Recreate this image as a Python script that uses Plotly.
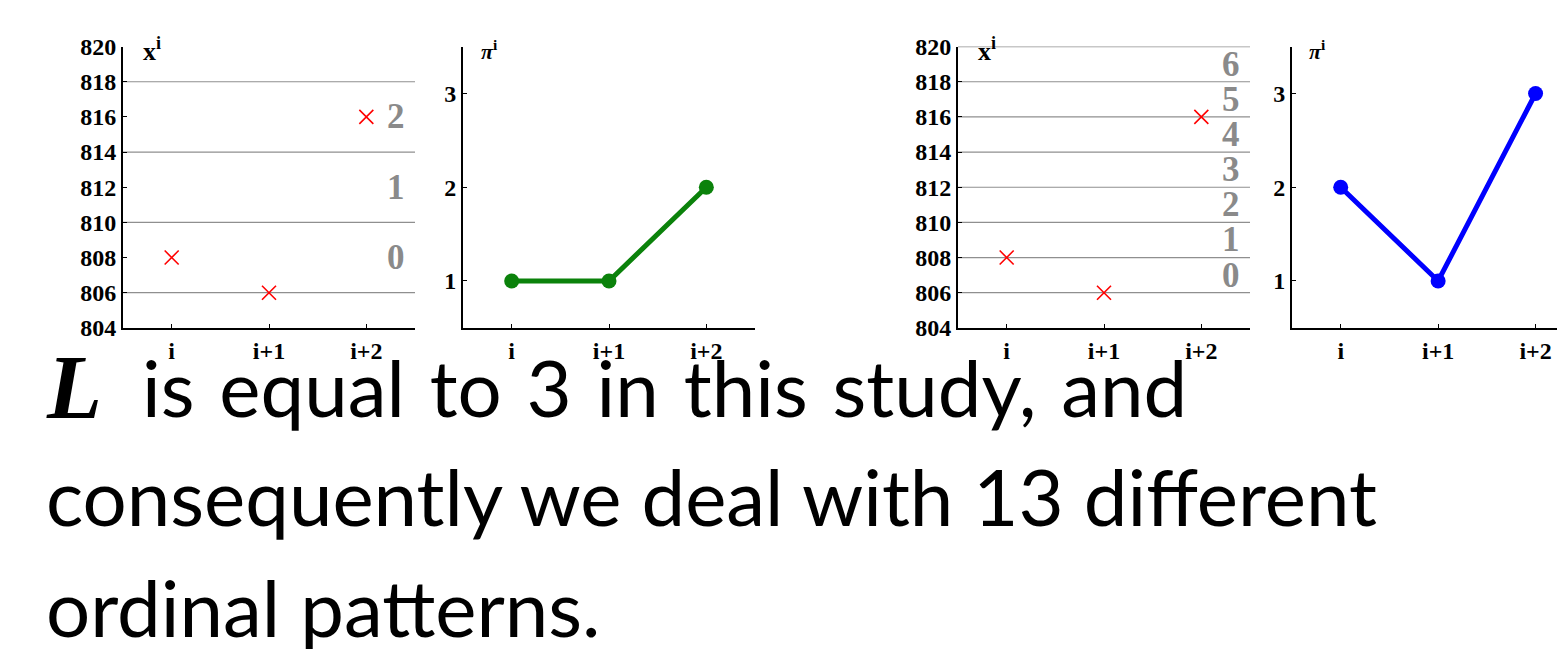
import plotly.graph_objects as go

# ---- data -------------------------------------------------------------
steps = ["i", "i+1", "i+2"]
x_series = [808, 806, 816]          # the three samples x^i
pi_coarse = [1, 1, 2]               # ordinal pattern with 3 amplitude levels
pi_fine = [2, 1, 3]                 # ordinal pattern with 7 amplitude levels
edges_coarse = [806, 810, 814, 818]
edges_fine = [806, 808, 810, 812, 814, 816, 818, 820]
y_ticks_x = [804, 806, 808, 810, 812, 814, 816, 818, 820]
y_ticks_pi = [1, 2, 3]

W, H = 1557, 649
SERIF = "Liberation Serif"
SANS = "Lato"

fig = go.Figure()


def px(v):
    return v / W


def sfx(k):
    return "" if k == 1 else str(k)


y_dom = [1 - 328 / H, 1 - 35 / H]
panels = {
    1: [px(123), px(415)],
    2: [px(463), px(755)],
    3: [px(958), px(1250)],
    4: [px(1292), 1.0],
}

tick_font = dict(family=SERIF, size=24, color="black", weight="bold")
axis_common = dict(showline=True, linecolor="black", linewidth=2, showgrid=False,
                   zeroline=False, ticks="inside", ticklen=4, tickcolor="black",
                   tickfont=tick_font, fixedrange=True)

# sample panels (1 and 3)
for k in (1, 3):
    fig.add_trace(go.Scatter(
        x=steps, y=x_series, mode="markers",
        marker=dict(symbol="x-thin-open", size=14, color="red",
                    line=dict(color="red", width=1.6)),
        xaxis=f"x{sfx(k)}", yaxis=f"y{sfx(k)}", showlegend=False, cliponaxis=False))

# ordinal pattern panels (2 and 4)
for k, vals, col in ((2, pi_coarse, "#0b820b"), (4, pi_fine, "#0000ff")):
    fig.add_trace(go.Scatter(
        x=steps, y=vals, mode="lines+markers",
        line=dict(color=col, width=5),
        marker=dict(size=15, color=col),
        xaxis=f"x{sfx(k)}", yaxis=f"y{sfx(k)}", showlegend=False, cliponaxis=False))

layout = dict(width=W, height=H, margin=dict(l=0, r=0, t=0, b=0),
              plot_bgcolor="white", paper_bgcolor="white", showlegend=False)
for k, dom in panels.items():
    s = sfx(k)
    xr = [-0.5, 2.5] if k != 4 else [-0.5, 2.22]
    layout[f"xaxis{s}"] = dict(domain=dom, anchor=f"y{s}", range=xr,
                               type="category", **axis_common)
    if k in (1, 3):
        layout[f"yaxis{s}"] = dict(domain=y_dom, anchor=f"x{s}", range=[804, 820],
                                   tickvals=y_ticks_x, **axis_common)
    else:
        layout[f"yaxis{s}"] = dict(domain=y_dom, anchor=f"x{s}", range=[0.5, 3.5],
                                   tickvals=y_ticks_pi, **axis_common)
fig.update_layout(**layout)

# amplitude partition lines and their level numbers
for k, edges in ((1, edges_coarse), (3, edges_fine)):
    s = sfx(k)
    for e in edges:
        fig.add_shape(type="line", xref=f"x{s} domain", yref=f"y{s}",
                      x0=0, x1=1, y0=e, y1=e,
                      line=dict(color="#8f8f8f", width=1.2), layer="below")
    for n, (lo, hi) in enumerate(zip(edges[:-1], edges[1:])):
        fig.add_annotation(text=str(n), xref=f"x{s} domain", yref=f"y{s}",
                           x=0.935, y=(lo + hi) / 2, xanchor="center", showarrow=False,
                           font=dict(family=SERIF, size=35, color="#8a8a8a",
                                     weight="bold"))

# axis symbols
for k in (1, 3):
    s = sfx(k)
    fig.add_annotation(text="x<sup>i</sup>", xref=f"x{s} domain", yref=f"y{s} domain",
                       x=0.06, y=1.055, xanchor="left", yanchor="top", showarrow=False,
                       font=dict(family=SERIF, size=26, color="black", weight="bold"))
for k in (2, 4):
    s = sfx(k)
    fig.add_annotation(text="<i>π</i><sup>i</sup>", xref=f"x{s} domain",
                       yref=f"y{s} domain", x=0.055, y=1.045, xanchor="left",
                       yanchor="top", showarrow=False,
                       font=dict(family=SERIF, size=22, color="black", weight="bold"))

# sentence below the panels (first line is stretched like justified text)
fig.add_annotation(text="<b><i>L</i></b>", xref="paper", yref="paper",
                   x=px(44), y=1 - 390 / H, xanchor="left", yanchor="middle",
                   showarrow=False, font=dict(family=SERIF, size=90, color="black"))
wide = " \u200a"
lines = [(wide.join("is equal to 3 in this study, and".split(" ")), 140, 390),
         ("consequently we deal with 13 different", 44, 503),
         ("ordinal patterns.", 44, 619)]
for txt, x0, yc in lines:
    fig.add_annotation(text=txt, xref="paper", yref="paper",
                       x=px(x0), y=1 - yc / H, xanchor="left", yanchor="middle",
                       showarrow=False, font=dict(family=SANS, size=78, color="black"))

fig.write_html("out.html")
